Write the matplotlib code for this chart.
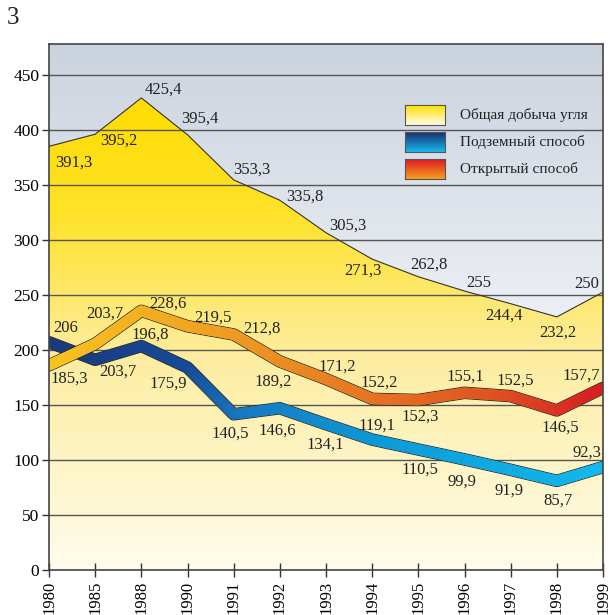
import numpy as np
import matplotlib
matplotlib.use("Agg")
import matplotlib.pyplot as plt
from matplotlib.collections import LineCollection
from matplotlib.colors import LinearSegmentedColormap

# --- data ---------------------------------------------------------------
years = ["1980", "1985", "1988", "1990", "1991", "1992", "1993",
         "1994", "1995", "1996", "1997", "1998", "1999"]

# drawn positions
total = [385, 396, 429, 395.5, 354.5, 336, 306.5, 282.5, 266.5, 253.5, 242, 230, 252.5]
opencast = [186, 205.5, 235.5, 221.5, 214, 189.5, 173.5, 155.5, 154.5, 161, 158, 145, 165.5]
underground = [207, 191, 203.5, 184, 141.5, 147, 132.5, 118.5, 109.5, 100.5, 91, 81, 93.5]

# value labels as printed
total_labels = ["391,3", "395,2", "425,4", "395,4", "353,3", "335,8", "305,3",
                "271,3", "262,8", "255", "244,4", "232,2", "250"]
open_labels = ["185,3", "203,7", "228,6", "219,5", "212,8", "189,2", "171,2",
               "152,2", "152,3", "155,1", "152,5", "146,5", "157,7"]
under_labels = ["206", "203,7", "196,8", "175,9", "140,5", "146,6", "134,1",
                "119,1", "110,5", "99,9", "91,9", "85,7", "92,3"]

legend_names = ["Общая добыча угля", "Подземный способ", "Открытый способ"]

# label offsets in pixels (dx, dy up)
total_off = [(25, -16), (24, -6), (22, 8), (12, 16), (18, 10), (25, 4), (22, 7),
             (-9, -12), (11, 12), (14, 8), (-7, -12), (1, -16), (-16, 8)]
open_off = [(20, -13), (10, 30), (27, 7), (25, 9), (28, 6), (-7, -20), (11, 12),
            (7, 16), (2, -17), (1, 16), (5, 15), (3, -17), (-22, 12)]
under_off = [(17, 14), (23, -12), (9, 11), (-19, -16), (-3, -19), (-3, -22), (-1, -20),
             (5, 14), (2, -20), (-3, -22), (-2, -21), (1, -20), (-16, 14)]

SERIF = ["Liberation Serif", "DejaVu Serif"]
plt.rcParams['font.family'] = SERIF

x = np.arange(len(years))
ytop = 478

fig = plt.figure(figsize=(6.1, 6.15), dpi=100)
ax = fig.add_axes([49 / 610, 1 - 570 / 615, 554 / 610, 526 / 615])
ax.set_xlim(0, len(years) - 1)
ax.set_ylim(0, ytop)

# background gradient (grey-blue)
bg = LinearSegmentedColormap.from_list("bg", [(0, "#ffffff"), (0.45, "#eef1f6"), (1, "#cbd3de")])
grad = np.linspace(0, 1, 256).reshape(-1, 1)
ax.imshow(grad, cmap=bg, origin="lower", aspect="auto",
          extent=[0, len(years) - 1, 0, ytop], zorder=0)

# yellow area with vertical gradient
yl = LinearSegmentedColormap.from_list("yl", [(0, "#fffcec"), (0.45, "#fdeda0"),
                                              (0.75, "#ffe22a"), (1, "#ffdc00")])
poly = ax.fill_between(x, 0, total, color="none", zorder=1)
img = ax.imshow(np.linspace(0, 1, 256).reshape(-1, 1), cmap=yl, origin="lower", aspect="auto",
                extent=[0, len(years) - 1, 0, max(total)], zorder=1)
img.set_clip_path(poly.get_paths()[0], transform=ax.transData)
ax.plot(x, total, color="#333333", lw=0.8, zorder=3)

# grid
for v in range(50, 500, 50):
    ax.axhline(v, color="#555555", lw=1.0, zorder=2)


def gradient_line(xv, yv, colors, lw, z):
    xs, ys = [], []
    for i in range(len(xv) - 1):
        xs.extend(np.linspace(xv[i], xv[i + 1], 30)[:-1])
        ys.extend(np.linspace(yv[i], yv[i + 1], 30)[:-1])
    xs.append(xv[-1])
    ys.append(yv[-1])
    pts = np.column_stack([xs, ys]).reshape(-1, 1, 2)
    segs = np.concatenate([pts[:-1], pts[1:]], axis=1)
    cmap = LinearSegmentedColormap.from_list("g", colors)
    t = np.array(xs[:-1]) / xv[-1]
    ax.plot(xv, yv, color="#2a2a2a", lw=lw + 1.2, solid_capstyle="round",
            solid_joinstyle="round", zorder=z)
    lc = LineCollection(segs, colors=cmap(t), linewidths=lw, capstyle="round", zorder=z + 0.1)
    ax.add_collection(lc)


gradient_line(x, underground, [(0, "#1b3878"), (0.25, "#164a98"), (0.35, "#1878c0"),
                               (0.6, "#0c9ad6"), (1, "#12b8ec")], 7.8, 4)
gradient_line(x, opencast, [(0, "#f8c420"), (0.3, "#f0a020"), (0.55, "#e67a22"),
                            (0.8, "#de5422"), (1, "#d81e22")], 7.8, 5)

for labels, vals, offs in ((total_labels, total, total_off),
                           (open_labels, opencast, open_off),
                           (under_labels, underground, under_off)):
    for xi, v, lab, (dx, dy) in zip(x, vals, labels, offs):
        ax.annotate(lab, (xi, v), xytext=(dx, dy), textcoords="offset pixels",
                    ha="center", va="center", fontsize=12, color="#222222", zorder=6)

# axes styling
ax.set_yticks(range(0, 500, 50))
ax.set_xticks(x)
ax.set_xticklabels(years, rotation=90, fontsize=12)
ax.tick_params(axis="y", length=5, width=1, color="#333333", labelsize=12.5, pad=2)
ax.tick_params(axis="x", direction="inout", length=10, width=1, color="#333333", pad=3)
for s in ax.spines.values():
    s.set_color("#444444")
    s.set_linewidth(1.2)
    s.set_zorder(7)

# legend
sw_cols = [["#fffbe6", "#ffe000"], ["#18b8f0", "#1a2f70"], ["#f5a020", "#e01820"]]
for i, (name, cols) in enumerate(zip(legend_names, sw_cols)):
    top = 105 + i * 27
    sax = fig.add_axes([405 / 610, 1 - (top + 20) / 615, 40 / 610, 20 / 615])
    sax.imshow(np.linspace(0, 1, 64).reshape(-1, 1), origin="lower", aspect="auto",
               cmap=LinearSegmentedColormap.from_list("s", cols))
    sax.set_xticks([])
    sax.set_yticks([])
    for s in sax.spines.values():
        s.set_color("#555555")
        s.set_linewidth(0.8)
    fig.text(460 / 610, 1 - (top + 10) / 615, name, fontsize=11, va="center",
             ha="left", color="#222222")

fig.text(13 / 610, 1 - 18 / 615, "3", fontsize=18, ha="center", va="center", color="#222222")

fig.savefig("out.png", dpi=100)
